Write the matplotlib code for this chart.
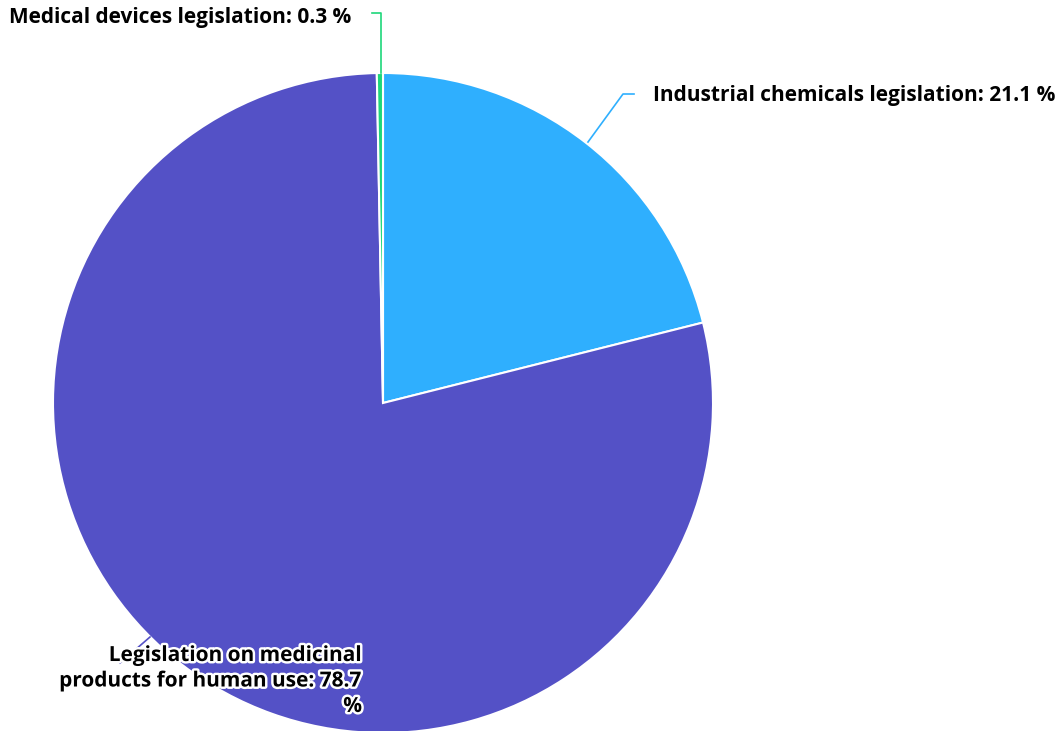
import matplotlib
matplotlib.use('Agg')
import matplotlib.pyplot as plt
import matplotlib.patheffects as pe

# データ (時計回り, 12時から)
labels = ['Industrial chemicals legislation', 'Legislation on medicinal products for human use',
          'Medical devices legislation']
values = [21.1, 78.7, 0.3]
colors = ['#2FAFFE', '#5451C6', '#1ED77A']

W, H = 1057, 731
cx, cy = 383, 403   # 中心 (pixel)
R = 330

plt.rcParams['font.family'] = ['Open Sans', 'DejaVu Sans']

fig = plt.figure(figsize=(W/100, H/100), dpi=100)
ax = fig.add_axes([0, 0, 1, 1])
ax.pie(values, colors=colors, startangle=90, counterclock=False, radius=R,
       wedgeprops=dict(edgecolor='white', linewidth=1.5))
ax.set_xlim(-cx, W - cx)
ax.set_ylim(-(H - cy), cy)
ax.set_aspect('equal')
ax.axis('off')

def P(x, y):
    # pixel -> data
    return x - cx, cy - y

fs = 15

# Industrial chemicals
pts = [P(588, 142), P(623, 94), P(634, 94)]
ax.plot([p[0] for p in pts], [p[1] for p in pts], color=colors[0], lw=1.2)
tx, ty = P(653, 95)
ax.text(tx, ty, f'{labels[0]}: {values[0]} %', ha='left', va='center',
        fontsize=fs, fontweight='bold')

# Medical devices
pts = [P(380.5, 73), P(380.5, 13), P(372, 13)]
ax.plot([p[0] for p in pts], [p[1] for p in pts], color=colors[2], lw=1.2)
tx, ty = P(351, 17)
ax.text(tx, ty, f'{labels[2]}: {values[2]} %', ha='right', va='center',
        fontsize=fs, fontweight='bold')

# Medicinal products
pts = [P(150, 637), P(120, 663)]
ax.plot([p[0] for p in pts], [p[1] for p in pts], color=colors[1], lw=1.2)
tx, ty = P(362, 681)
ax.text(tx, ty, 'Legislation on medicinal\nproducts for human use: 78.7\n%',
        ha='right', va='center', multialignment='right', linespacing=1.28,
        fontsize=fs, fontweight='bold', zorder=5,
        path_effects=[pe.withStroke(linewidth=3.5, foreground='white')])

fig.savefig('out.png', dpi=100)
